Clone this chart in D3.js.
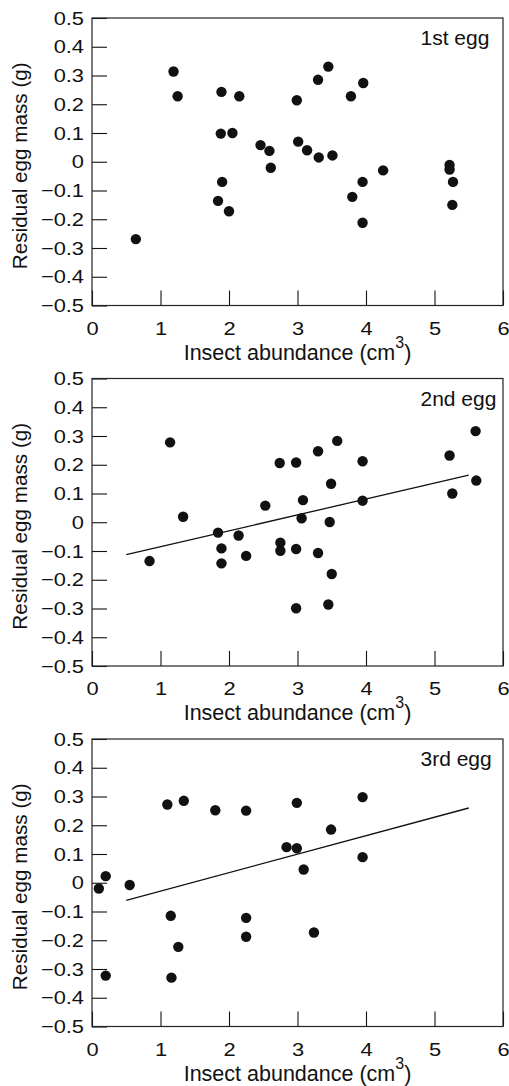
<!DOCTYPE html>
<html>
<head>
<meta charset="utf-8">
<script src="https://cdn.jsdelivr.net/npm/d3@7"></script>
<style>
  body { margin: 0; background: #fff; }
  svg { display: block; font-family: "Liberation Sans", Arial, sans-serif; }
</style>
</head>
<body>
<div id="vis"></div>
<script>
const width = 509;
const height = 1086;
const margin = { left: 92, right: 6 };
const plotH = 287.5;
const panelTops = [18, 378.5, 739];

// values
const egg1X = [0.64, 1.19, 1.25, 1.84, 1.89, 1.88, 1.90, 2.05, 2.00, 2.15, 2.46, 2.59, 2.61, 2.99, 3.01,
    3.14, 3.30, 3.31, 3.45, 3.51, 3.78, 3.80, 3.96, 3.95, 3.95, 4.25, 5.22, 5.22, 5.27, 5.26];
const egg1Y = [-0.269, 0.314, 0.228, -0.136, 0.243, 0.098, -0.07, 0.10, -0.172, 0.228, 0.058, 0.038, -0.021, 0.214, 0.07,
    0.04, 0.285, 0.015, 0.331, 0.022, 0.228, -0.122, 0.274, -0.07, -0.212, -0.03, -0.011, -0.027, -0.07, -0.15];

const egg2X = [0.84, 1.14, 1.33, 1.84, 1.89, 1.89, 2.14, 2.25, 2.53, 2.74, 2.75, 2.75, 2.98, 2.98, 2.98,
    3.08, 3.06, 3.30, 3.30, 3.45, 3.49, 3.47, 3.50, 3.58, 3.95, 3.95, 5.22, 5.26, 5.60, 5.61];
const egg2Y = [-0.135, 0.278, 0.019, -0.036, -0.091, -0.143, -0.046, -0.117, 0.058, 0.206, -0.071, -0.099, 0.208, -0.093, -0.299,
    0.077, 0.014, 0.247, -0.107, -0.286, 0.134, 0.001, -0.18, 0.283, 0.212, 0.075, 0.232, 0.10, 0.317, 0.145];

const egg3X = [0.10, 0.20, 0.20, 0.55, 1.10, 1.15, 1.16, 1.26, 1.34, 1.80, 2.25, 2.25, 2.25, 2.84, 2.99,
    2.99, 3.09, 3.24, 3.49, 3.95, 3.95];
const egg3Y = [-0.02, 0.023, -0.323, -0.008, 0.272, -0.115, -0.330, -0.223, 0.285, 0.252, 0.251, -0.122, -0.188, 0.124, 0.12,
    0.278, 0.046, -0.173, 0.185, 0.298, 0.089];

// fitted lines (start, end)
const fit2 = [[0.5, -0.113], [5.5, 0.164]];
const fit3 = [[0.5, -0.061], [5.5, 0.260]];

const panelLabels = ["1st egg", "2nd egg", "3rd egg"];
const xTicks = [0, 1, 2, 3, 4, 5, 6];
const yTicks = [-0.5, -0.4, -0.3, -0.2, -0.1, 0, 0.1, 0.2, 0.3, 0.4, 0.5];

const panels = [
    { xs: egg1X, ys: egg1Y, fit: null },
    { xs: egg2X, ys: egg2Y, fit: fit2 },
    { xs: egg3X, ys: egg3Y, fit: fit3 }
];

const tickFont = 19;
const tickStretch = 1.15;

const svg = d3.select("#vis").append("svg")
    .attr("width", width)
    .attr("height", height);

const xScale = d3.scaleLinear()
    .domain([0, 6])
    .range([margin.left, width - margin.right]);

panels.forEach((p, i) => {
    const top = panelTops[i];
    const yScale = d3.scaleLinear()
        .domain([-0.5, 0.5])
        .range([top + plotH, top]);

    const g = svg.append("g");

    // y axis, ticks pointing inward
    const yAxis = g.append("g")
        .attr("transform", `translate(${margin.left},0)`)
        .call(d3.axisLeft(yScale)
            .tickValues(yTicks)
            .tickSize(-15)
            .tickPadding(8)
            .tickFormat(d => d === 0 ? "0" : d3.format(".1f")(d)));
    yAxis.select(".domain").remove();
    yAxis.selectAll("line").attr("stroke", "#111").attr("stroke-width", 1.1);
    yAxis.selectAll("text")
        .attr("fill", "#111")
        .style("font-size", tickFont + "px")
        .attr("x", -8 / tickStretch)
        .attr("transform", `scale(${tickStretch},1)`);

    // x axis
    const xAxis = g.append("g")
        .attr("transform", `translate(0,${top + plotH})`)
        .call(d3.axisBottom(xScale)
            .tickValues(xTicks)
            .tickSize(-15)
            .tickPadding(16)
            .tickFormat(d3.format("d")));
    xAxis.select(".domain").remove();
    xAxis.selectAll("line").attr("stroke", "#111").attr("stroke-width", 1.1);
    xAxis.selectAll("text")
        .attr("fill", "#111")
        .style("font-size", tickFont + "px")
        .attr("transform", `scale(${tickStretch},1)`);

    // frame
    g.append("rect")
        .attr("x", xScale(0))
        .attr("y", yScale(0.5))
        .attr("width", xScale(6) - xScale(0))
        .attr("height", yScale(-0.5) - yScale(0.5))
        .attr("fill", "none")
        .attr("stroke", "#222")
        .attr("stroke-width", 1.2);

    // regression line
    if (p.fit) {
        g.append("path")
            .datum(p.fit)
            .attr("d", d3.line().x(d => xScale(d[0])).y(d => yScale(d[1])))
            .attr("fill", "none")
            .attr("stroke", "#111")
            .attr("stroke-width", 1.3);
    }

    // points
    g.selectAll("circle")
        .data(p.xs.map((x, k) => ({ x: x, y: p.ys[k] })))
        .enter().append("circle")
        .attr("cx", d => xScale(d.x))
        .attr("cy", d => yScale(d.y))
        .attr("r", 5.2)
        .attr("fill", "#111");

    // panel label
    g.append("text")
        .attr("x", 420.5)
        .attr("y", top + 27)
        .attr("fill", "#111")
        .style("font-size", "21px")
        .text(panelLabels[i]);

    // axis titles
    const xt = g.append("text")
        .attr("x", (xScale(0) + xScale(6)) / 2)
        .attr("y", top + plotH + 54)
        .attr("text-anchor", "middle")
        .attr("fill", "#111")
        .style("font-size", "21.5px");
    xt.append("tspan").text("Insect abundance (cm");
    xt.append("tspan").attr("dy", -12).style("font-size", "16px").text("3");
    xt.append("tspan").attr("dy", 12).text(")");

    g.append("text")
        .attr("transform", "rotate(-90)")
        .attr("x", -(top + plotH / 2 + 4))
        .attr("y", 27)
        .attr("text-anchor", "middle")
        .attr("fill", "#111")
        .style("font-size", "20.7px")
        .text("Residual egg mass (g)");
});
</script>
</body>
</html>
